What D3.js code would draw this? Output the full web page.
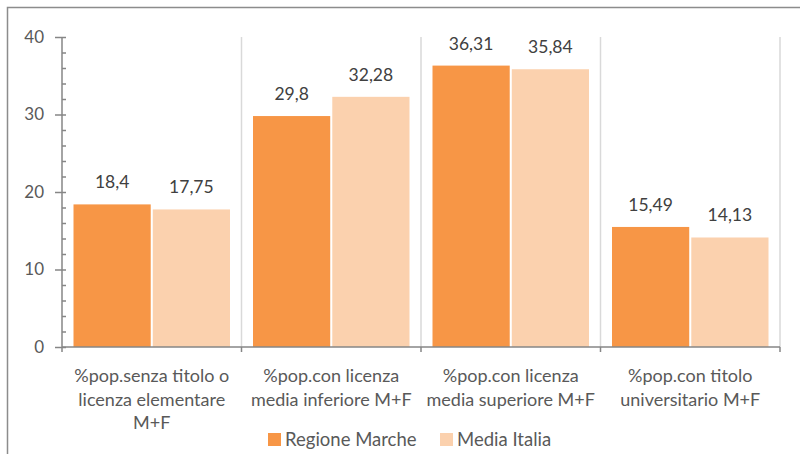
<!DOCTYPE html>
<html>
<head>
<meta charset="utf-8">
<script src="https://cdn.jsdelivr.net/npm/d3@7"></script>
<style>
  body { margin: 0; background: #fff; }
  svg { display: block; font-family: Lato, "Open Sans", sans-serif; }
</style>
</head>
<body>
<div id="chart"></div>
<script>
const categories = [
  "%pop.senza titolo o licenza elementare M+F",
  "%pop.con licenza media inferiore M+F",
  "%pop.con licenza media superiore M+F",
  "%pop.con titolo universitario M+F"
];
const seriesNames = ["Regione Marche", "Media Italia"];
const regioneMarche = [18.4, 29.8, 36.31, 15.49];
const mediaItalia = [17.75, 32.28, 35.84, 14.13];
const yTicks = [0, 10, 20, 30, 40];

const colors = { "Regione Marche": "#f79646", "Media Italia": "#fbd1ae" };
const W = 800, H = 454;
const plot = { left: 62, right: 780, top: 37, bottom: 347 };

const data = categories.map((c, i) => ({
  cat: c,
  values: [
    { s: "Regione Marche", v: regioneMarche[i] },
    { s: "Media Italia", v: mediaItalia[i] }
  ]
}));

const svg = d3.select("#chart").append("svg")
  .attr("width", W).attr("height", H);

// outer frame
svg.append("rect")
  .attr("x", 7.5).attr("y", 7.5)
  .attr("width", W + 20).attr("height", H + 20)
  .attr("fill", "none").attr("stroke", "#8c8c8c").attr("stroke-width", 1.5);

const x = d3.scaleBand().domain(categories).range([plot.left, plot.right]);
const x1 = d3.scaleBand().domain(seriesNames)
  .range([11.5, x.bandwidth() - 11.5]).paddingInner(0.026);
const y = d3.scaleLinear().domain([0, 40]).range([plot.bottom, plot.top]);

// vertical separators
svg.append("g").selectAll("line")
  .data(categories)
  .join("line")
  .attr("x1", d => x(d) + x.bandwidth()).attr("x2", d => x(d) + x.bandwidth())
  .attr("y1", plot.top).attr("y2", plot.bottom)
  .attr("stroke", "#d9d9d9").attr("stroke-width", 1.5);

// bars
const groups = svg.append("g").selectAll("g")
  .data(data)
  .join("g")
  .attr("transform", d => `translate(${x(d.cat)},0)`);

groups.selectAll("rect")
  .data(d => d.values)
  .join("rect")
  .attr("x", d => x1(d.s))
  .attr("y", d => y(d.v))
  .attr("width", x1.bandwidth())
  .attr("height", d => y(0) - y(d.v))
  .attr("fill", d => colors[d.s]);

groups.selectAll("text")
  .data(d => d.values)
  .join("text")
  .attr("x", d => x1(d.s) + x1.bandwidth() / 2)
  .attr("y", d => y(d.v) - 16)
  .attr("text-anchor", "middle")
  .attr("fill", "#404040")
  .style("font-size", "17.5px")
  .text(d => String(d.v).replace(".", ","));

const axisColor = "#868686";

// y axis: labels + major ticks
const yAxis = svg.append("g")
  .attr("transform", `translate(${plot.left},0)`)
  .call(d3.axisLeft(y).tickValues(yTicks).tickSize(7).tickPadding(11));
yAxis.select(".domain").remove();
yAxis.selectAll("line").attr("stroke", axisColor).attr("stroke-width", 1.5);
yAxis.selectAll("text").attr("fill", "#595959").style("font-size", "17px")
  .style("font-family", "Lato, sans-serif");

// minor ticks on the right side
const yMinor = svg.append("g")
  .attr("transform", `translate(${plot.left},0)`)
  .call(d3.axisRight(y).tickValues(d3.range(0, 41, 2)).tickSize(4).tickFormat(""));
yMinor.select(".domain").remove();
yMinor.selectAll("line").attr("stroke", axisColor).attr("stroke-width", 1.5);

svg.append("line")
  .attr("x1", plot.left).attr("x2", plot.left)
  .attr("y1", plot.top).attr("y2", plot.bottom + 5)
  .attr("stroke", axisColor).attr("stroke-width", 1.5);

// x axis line and boundary ticks
svg.append("line")
  .attr("x1", plot.left).attr("x2", plot.right)
  .attr("y1", plot.bottom).attr("y2", plot.bottom)
  .attr("stroke", axisColor).attr("stroke-width", 1.5);
svg.append("g").selectAll("line")
  .data(categories)
  .join("line")
  .attr("x1", d => x(d) + x.bandwidth()).attr("x2", d => x(d) + x.bandwidth())
  .attr("y1", plot.bottom).attr("y2", plot.bottom + 5)
  .attr("stroke", axisColor).attr("stroke-width", 1.5);

// category labels, wrapped
function wrap(textSel, width) {
  textSel.each(function(d) {
    const text = d3.select(this);
    const words = d.split(" ");
    const cx = text.attr("x");
    let line = [];
    let tspan = text.append("tspan").attr("x", cx).attr("dy", 0);
    words.forEach(w => {
      line.push(w);
      tspan.text(line.join(" "));
      if (tspan.node().getComputedTextLength() > width && line.length > 1) {
        line.pop();
        tspan.text(line.join(" "));
        line = [w];
        tspan = text.append("tspan").attr("x", cx).attr("dy", 23.5).text(w);
      }
    });
  });
}

svg.append("g").selectAll("text")
  .data(categories)
  .join("text")
  .attr("x", d => x(d) + x.bandwidth() / 2)
  .attr("y", 382)
  .attr("text-anchor", "middle")
  .attr("fill", "#595959")
  .style("font-size", "18px")
  .call(wrap, 176);

// legend
const legendPos = [268, 440];
const legend = svg.append("g").selectAll("g")
  .data(seriesNames)
  .join("g")
  .attr("transform", (d, i) => `translate(${legendPos[i]},433)`);
legend.append("rect")
  .attr("width", 13).attr("height", 13)
  .attr("fill", d => colors[d]);
legend.append("text")
  .attr("x", 17).attr("y", 13)
  .attr("fill", "#595959")
  .style("font-size", "18.5px")
  .text(d => d);
</script>
</body>
</html>
